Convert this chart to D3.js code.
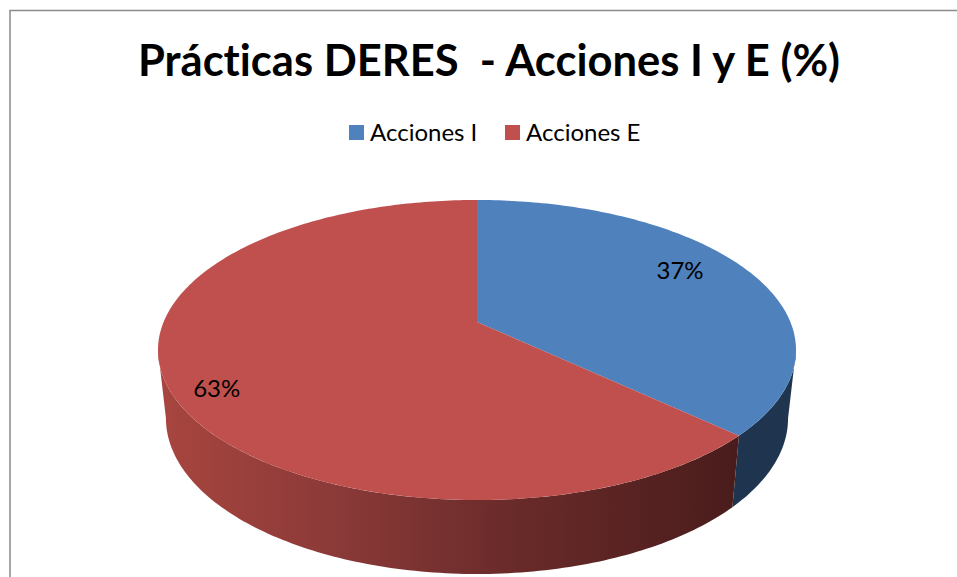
<!DOCTYPE html>
<html>
<head>
<meta charset="utf-8">
<script src="https://cdn.jsdelivr.net/npm/d3@7"></script>
<style>
  html, body { margin: 0; padding: 0; background: #fff; }
  svg { display: block; }
  text { font-family: Lato, "Open Sans", sans-serif; fill: #000; font-variant-ligatures: none; }
</style>
</head>
<body>
<script>
const titleText = "Prácticas DERES  - Acciones I y E (%)";
const categories = ["Acciones I", "Acciones E"];
const values = [37, 63];
const labels = ["37%", "63%"];

const topColours = ["#4f81bd", "#c0504d"];

const width = 957, height = 577;

const svg = d3.select("body").append("svg")
    .attr("width", width)
    .attr("height", height);

// side wall shading, dark towards the lower right
const defs = svg.append("defs");
const blueWall = defs.append("linearGradient")
    .attr("id", "wall0")
    .attr("gradientUnits", "userSpaceOnUse")
    .attr("x1", 730).attr("x2", 800).attr("y1", 0).attr("y2", 0);
blueWall.append("stop").attr("offset", 0).attr("stop-color", "#1e344f");
blueWall.append("stop").attr("offset", 1).attr("stop-color", "#20364f");

const redWall = defs.append("linearGradient")
    .attr("id", "wall1")
    .attr("gradientUnits", "userSpaceOnUse")
    .attr("x1", 160).attr("x2", 740).attr("y1", 0).attr("y2", 0);
[[0, "#a8453f"], [0.3, "#8b3a38"], [0.6, "#6a2b2a"], [1, "#491c1b"]].forEach(s => {
    redWall.append("stop").attr("offset", s[0]).attr("stop-color", s[1]);
});

// frame, only top and left are showing
svg.append("path")
    .attr("d", d3.line()([[10, height], [10, 10.5], [width, 10.5]]))
    .attr("fill", "none")
    .attr("stroke", "#8a8a8a")
    .attr("stroke-width", 1.5);

svg.append("text")
    .attr("x", 138)
    .attr("y", 76)
    .attr("font-size", 44)
    .attr("font-weight", 700)
    .attr("textLength", 702)
    .attr("lengthAdjust", "spacingAndGlyphs")
    .style("white-space", "pre")
    .text(titleText);

// legend
const legendX = d3.scaleOrdinal().domain(categories).range([349, 505]);
const legend = svg.selectAll(".legend")
    .data(categories)
    .enter()
    .append("g")
    .attr("class", "legend")
    .attr("transform", d => "translate(" + legendX(d) + ",125)");
legend.append("rect")
    .attr("width", 15)
    .attr("height", 15)
    .attr("fill", (d, i) => topColours[i]);
legend.append("text")
    .attr("x", 21)
    .attr("y", 16)
    .attr("font-size", 24)
    .text(d => d);

// perspective projection of the pie disc, rim is an ellipse and
// the centre of the disc sits above the middle of it
const k = 0.1867;
function project(angle, r, p) {
    const u = r * Math.sin(angle), v = r * Math.cos(angle);
    const w = 1 + k * v;
    return [p.cx + p.a * u / w, p.cy - p.b * v / w];
}
const topDisc = {cx: 477, cy: 322, a: 313.4, b: 144.8};
const bottomDisc = {cx: 477, cy: 389.2, a: 305.6, b: 150.3};

// rim turns back where its x is furthest out, wall is only seen between these
const wallFrom = Math.acos(-k);
const wallTo = 2 * Math.PI - wallFrom;

const arcs = d3.pie().sort(null)(values);
const line = d3.line();

function rim(a0, a1, disc) {
    const n = Math.ceil((a1 - a0) * 60);
    return d3.range(n + 1).map(i => project(a0 + (a1 - a0) * i / n, 1, disc));
}

const pieG = svg.append("g");

// walls first, top faces go over them
pieG.selectAll(".wall")
    .data(arcs)
    .enter()
    .append("path")
    .attr("class", "wall")
    .attr("fill", (d, i) => "url(#wall" + i + ")")
    .attr("d", d => {
        const a0 = Math.max(d.startAngle, wallFrom), a1 = Math.min(d.endAngle, wallTo);
        return line(rim(a0, a1, topDisc).concat(rim(a0, a1, bottomDisc).reverse())) + "Z";
    });

pieG.selectAll(".slice")
    .data(arcs)
    .enter()
    .append("path")
    .attr("class", "slice")
    .attr("fill", (d, i) => topColours[i])
    .attr("d", d => line([[topDisc.cx, topDisc.cy]].concat(rim(d.startAngle, d.endAngle, topDisc))) + "Z");

// data labels
const labelRadius = [0.745, 0.848];
const labelDy = [-2, 23];
pieG.selectAll(".label")
    .data(arcs)
    .enter()
    .append("text")
    .attr("class", "label")
    .attr("text-anchor", "middle")
    .attr("font-size", 24)
    .attr("x", (d, i) => project((d.startAngle + d.endAngle) / 2, labelRadius[i], topDisc)[0])
    .attr("y", (d, i) => project((d.startAngle + d.endAngle) / 2, labelRadius[i], topDisc)[1] + labelDy[i])
    .text((d, i) => labels[i]);
</script>
</body>
</html>
